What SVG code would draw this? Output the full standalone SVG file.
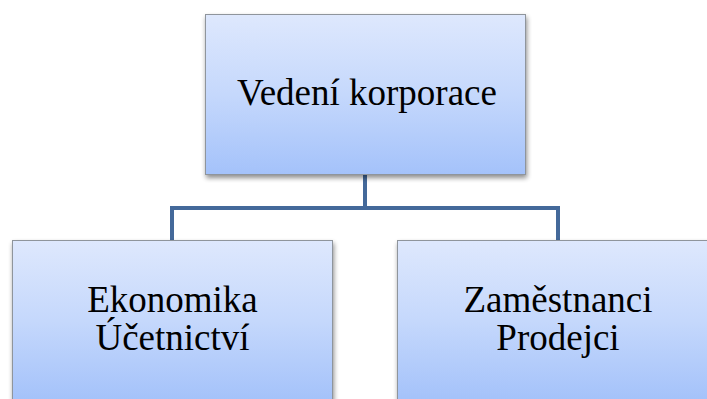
<svg xmlns="http://www.w3.org/2000/svg" width="707" height="399" viewBox="0 0 707 399">
<defs>
<linearGradient id="g" x1="0" y1="0" x2="0" y2="1">
<stop offset="0" stop-color="#dee8fd"/>
<stop offset="0.5" stop-color="#c5d8fc"/>
<stop offset="1" stop-color="#a4c2fa"/>
</linearGradient>
<filter id="sh" x="-10%" y="-10%" width="120%" height="130%">
<feGaussianBlur in="SourceAlpha" stdDeviation="2.5"/>
<feOffset dx="1" dy="3"/>
<feComponentTransfer><feFuncA type="linear" slope="0.45"/></feComponentTransfer>
<feMerge><feMergeNode/><feMergeNode in="SourceGraphic"/></feMerge>
</filter>
</defs>
<style>
.box{fill:url(#g);stroke:#8f959c;stroke-width:1;filter:url(#sh)}
.t{font-family:"Liberation Serif","Times New Roman",serif;font-size:37px;fill:#000;text-anchor:middle}
.c{fill:none;stroke:#44699a;stroke-width:4;stroke-linejoin:miter}
</style>
<rect width="707" height="399" fill="#fff"/>
<g id="connectors">
<path class="c" d="M365 174V208M172 240V208H558V240"/>
</g>
<g id="top">
<rect class="box" x="205.5" y="14.5" width="320" height="160"/>
<text class="t" x="367" y="105">Vedení korporace</text>
</g>
<g id="left">
<rect class="box" x="12.5" y="240.5" width="320" height="160"/>
<text class="t" x="172.5" y="312">Ekonomika</text>
<text class="t" x="172.5" y="350">Účetnictví</text>
</g>
<g id="right">
<rect class="box" x="397.5" y="240.5" width="320" height="160"/>
<text class="t" x="558" y="312">Zaměstnanci</text>
<text class="t" x="558" y="350">Prodejci</text>
</g>
</svg>
